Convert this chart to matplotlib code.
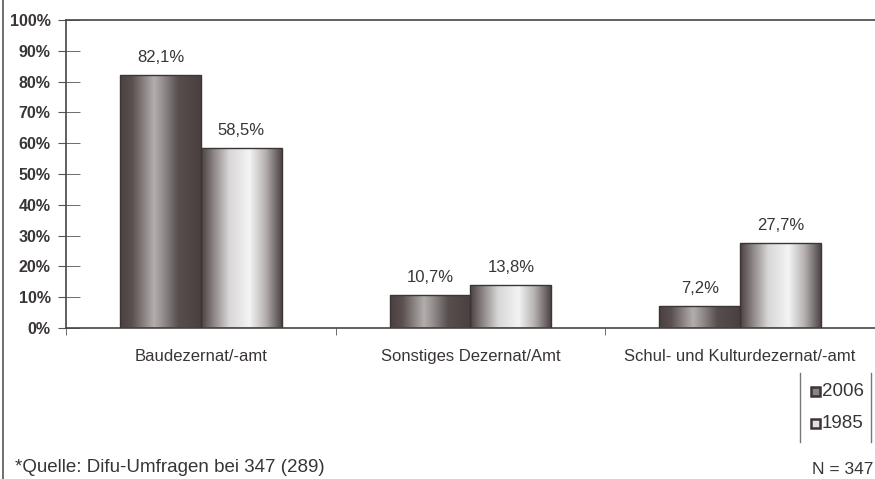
import matplotlib
matplotlib.use("Agg")
import matplotlib.pyplot as plt
import numpy as np
from matplotlib.colors import LinearSegmentedColormap
from matplotlib.lines import Line2D
from matplotlib.patches import Rectangle

plt.rcParams['font.family'] = ['Liberation Sans', 'DejaVu Sans']

categories = ["Baudezernat/-amt", "Sonstiges Dezernat/Amt", "Schul- und Kulturdezernat/-amt"]
series_names = ["2006", "1985"]
values_2006 = [82.1, 10.7, 7.2]
values_1985 = [58.5, 13.8, 27.7]
value_labels_2006 = ["82,1%", "10,7%", "7,2%"]
value_labels_1985 = ["58,5%", "13,8%", "27,7%"]
yticks = [0, 10, 20, 30, 40, 50, 60, 70, 80, 90, 100]
ytick_labels = ["0%", "10%", "20%", "30%", "40%", "50%", "60%", "70%", "80%", "90%", "100%"]

text_col = "#3a3535"
cmap_2006 = LinearSegmentedColormap.from_list("g2006", [
    (0.0, "#4a4040"), (0.15, "#5a5050"), (0.42, "#b3aead"), (0.55, "#8f8888"),
    (0.72, "#574e4e"), (1.0, "#4a4040")])
cmap_1985 = LinearSegmentedColormap.from_list("g1985", [
    (0.0, "#4a4040"), (0.15, "#8a8383"), (0.35, "#d9d7d7"), (0.6, "#f4f4f4"),
    (0.8, "#b5b0b0"), (1.0, "#4e4545")])

W, H = 875, 479
fig = plt.figure(figsize=(W / 100, H / 100), dpi=100)
ax = fig.add_axes([66 / W, 1 - 328 / H, 1 - 66 / W, (328 - 20) / H])

x = np.arange(len(categories))
w = 0.3
bars_a = ax.bar(x - w / 2, values_2006, w, facecolor="none", edgecolor="#3d3535", linewidth=1.0, zorder=3)
bars_b = ax.bar(x + w / 2, values_1985, w, facecolor="none", edgecolor="#3d3535", linewidth=1.0, zorder=3)

grad = np.linspace(0, 1, 256).reshape(1, -1)
for bars, cm in ((bars_a, cmap_2006), (bars_b, cmap_1985)):
    for b in bars:
        bx, by = b.get_x(), b.get_y()
        bw, bh = b.get_width(), b.get_height()
        im = ax.imshow(grad, cmap=cm, aspect="auto", extent=(bx, bx + bw, by, by + bh),
                       zorder=2, interpolation="bilinear")
        im.set_clip_path(b)

for bars, labels in ((bars_a, value_labels_2006), (bars_b, value_labels_1985)):
    for b, lab in zip(bars, labels):
        ax.annotate(lab, (b.get_x() + b.get_width() / 2, b.get_height()),
                    xytext=(0, 10), textcoords="offset pixels", ha="center", va="bottom",
                    fontsize=12, color=text_col)

ax.set_xlim(-0.5, len(categories) - 0.5)
ax.set_ylim(0, 100)
ax.set_yticks(yticks)
ax.set_yticklabels(ytick_labels, fontsize=11.5, fontweight="bold", color=text_col)
ax.set_yticks(yticks, minor=True)
ax.yaxis.remove_overlapping_locs = False
ax.set_xticks(x)
ax.set_xticklabels(categories, fontsize=12, color=text_col)
ax.set_xticks(np.arange(len(categories) + 1) - 0.5, minor=True)
ax.tick_params(axis="x", which="major", length=0, pad=15)
ax.tick_params(axis="x", which="minor", length=5, color="#555", direction="out")
ax.tick_params(axis="y", which="major", length=6, color="#555", direction="out", pad=5)
ax.tick_params(axis="y", which="minor", length=10, color="#555", direction="in")
for s in ("left", "bottom", "top"):
    ax.spines[s].set_color("#4a4444")
    ax.spines[s].set_linewidth(1.2)
ax.spines["right"].set_visible(False)

# outer left border
fig.add_artist(Line2D([3 / W, 3 / W], [0, 1], color="#5a5454", linewidth=1.2))

# legend (drawn manually)
legend_rows = [(series_names[0], "#8a8383", 391), (series_names[1], "#e2e0e0", 423)]
for name, fc, yc in legend_rows:
    fig.add_artist(Rectangle((811 / W, 1 - (yc + 4.5) / H), 8.5 / W, 8.5 / H,
                             facecolor=fc, edgecolor="#3d3535", linewidth=1.8,
                             transform=fig.transFigure))
    fig.text(822 / W, 1 - yc / H, name, fontsize=13.5, color=text_col, va="center", ha="left")
fig.add_artist(Line2D([800 / W, 800 / W], [1 - 373 / H, 1 - 442 / H], color="#777", linewidth=1))
fig.add_artist(Line2D([871 / W, 871 / W], [1 - 373 / H, 1 - 442 / H], color="#777", linewidth=1))

fig.text(15 / W, 1 - 467 / H, "*Quelle: Difu-Umfragen bei 347 (289)", fontsize=13.5,
         color=text_col, va="center", ha="left")
fig.text(873 / W, 1 - 469 / H, "N = 347", fontsize=12.5, color=text_col, va="center", ha="right")

fig.savefig("out.png", dpi=100)
